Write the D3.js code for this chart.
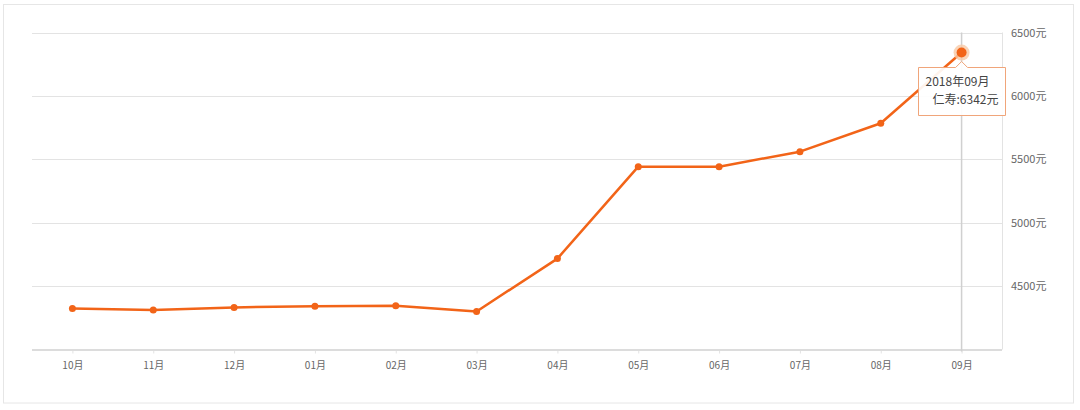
<!DOCTYPE html>
<html><head><meta charset="utf-8">
<script src="https://cdn.jsdelivr.net/npm/d3@7"></script>
<style>
html,body{margin:0;padding:0;background:#fff;}
svg text{font-family:"Microsoft YaHei","Noto Sans CJK SC","DejaVu Sans",sans-serif;}
</style></head>
<body><svg id="c" width="1080" height="410"></svg>
<script>
const months = ["10月","11月","12月","01月","02月","03月","04月","05月","06月","07月","08月","09月"];
const prices = [4324,4311,4332,4342,4345,4300,4717,5442,5442,5560,5784,6342];
const yTicks = [4500,5000,5500,6000,6500];
const seriesName = "仁寿";
const tipTitle = "2018年09月";

const svg = d3.select("#c");
const L = 32, R = 1002, T = 32.5, B = 349.5;
const x = d3.scalePoint().domain(months).range([L, R]).padding(0.5);
const y = d3.scaleLinear().domain([4000, 6500]).range([B, T]);

svg.append("rect").attr("x",3.5).attr("y",4.5).attr("width",1070).attr("height",398.5)
  .attr("fill","none").attr("stroke","#e6e6e6");

// gridlines
svg.append("g").selectAll("line").data(yTicks).join("line")
  .attr("x1",L).attr("x2",R).attr("y1",d=>Math.round(y(d))+0.5).attr("y2",d=>Math.round(y(d))+0.5)
  .attr("stroke","#e3e3e3");
// right border
svg.append("line").attr("x1",R+0.5).attr("x2",R+0.5).attr("y1",T).attr("y2",B)
  .attr("stroke","#e3e3e3");
// x axis
const xa = svg.append("g").attr("transform",`translate(0,${B})`)
  .call(d3.axisBottom(x).tickSize(4).tickPadding(8));
xa.select(".domain").remove();
xa.selectAll(".tick line").attr("stroke","#e3e3e3");
xa.selectAll("text").attr("fill","#666").attr("font-size","10px");
svg.append("line").attr("x1",L).attr("x2",R).attr("y1",B+0.5).attr("y2",B+0.5)
  .attr("stroke","#dcdcdc").attr("stroke-width",2);

// y axis labels
const ya = svg.append("g").attr("transform",`translate(${R},0)`)
  .call(d3.axisRight(y).tickValues(yTicks).tickSize(0).tickPadding(9).tickFormat(d=>d+"元"));
ya.select(".domain").remove();
ya.selectAll("text").attr("fill","#666").attr("font-size","11px");

// crosshair
const last = months.length-1;
svg.append("line").attr("x1",x(months[last])).attr("x2",x(months[last]))
  .attr("y1",T).attr("y2",B+2).attr("stroke","#d0d0d0").attr("stroke-width",1.5);

const col = "#f26418";
svg.append("path").datum(prices)
  .attr("d", d3.line().x((d,i)=>x(months[i])).y(d=>y(d)))
  .attr("fill","none").attr("stroke",col).attr("stroke-width",2.5).attr("stroke-linejoin","round");
svg.append("g").selectAll("circle").data(prices).join("circle")
  .attr("cx",(d,i)=>x(months[i])).attr("cy",d=>y(d)).attr("r",3.5).attr("fill",col);

// highlighted point
const hx = x(months[last]), hy = y(prices[last]);
svg.append("circle").attr("cx",hx).attr("cy",hy).attr("r",8).attr("fill","#f7c9a6").attr("opacity",0.8);
svg.append("circle").attr("cx",hx).attr("cy",hy).attr("r",5).attr("fill",col);

// tooltip
const tx = 918.5, ty = 67.5, tw = 87, th = 48;
const tip = svg.append("g");
tip.append("path")
  .attr("d",`M${tx},${ty} H${hx-6} L${hx},${ty-6} L${hx+6},${ty} H${tx+tw} V${ty+th} H${tx} Z`)
  .attr("fill","#fff").attr("fill-opacity",0.92).attr("stroke","#f0a57a").attr("stroke-width",1);
tip.append("text").attr("x",tx+7).attr("y",ty+18).attr("font-size","12px").attr("fill","#444").text(tipTitle);
tip.append("text").attr("x",tx+tw-7).attr("y",ty+36).attr("text-anchor","end").attr("font-size","12px").attr("fill","#444")
  .text(seriesName+":"+prices[last]+"元");
</script></body></html>
